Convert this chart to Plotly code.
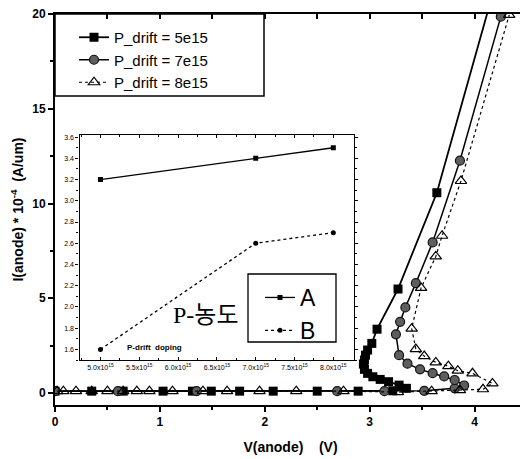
import plotly.graph_objects as go

# ---------------- data ----------------
# Main chart: V(anode) in volts, I(anode) in 1e-4 A/um
sq_v = [0.0, 0.35, 0.65, 1.03, 1.31, 1.49, 1.76, 2.08, 2.50, 2.89, 3.22, 3.35,
        3.28, 3.18, 3.10, 3.03, 2.98, 2.95, 2.94, 2.95, 2.96, 2.98, 3.02, 3.07,
        3.27, 3.64, 4.21]
sq_i = [0.10, 0.10, 0.10, 0.10, 0.10, 0.10, 0.10, 0.10, 0.10, 0.10, 0.12, 0.25,
        0.42, 0.60, 0.72, 0.86, 1.04, 1.25, 1.53, 1.74, 2.00, 2.27, 2.62, 3.37,
        5.49, 10.57, 21.8]

ci_v = [0.0, 0.60, 1.35, 2.69, 3.14, 3.52, 3.81, 3.90, 3.81, 3.71, 3.60, 3.48,
        3.36, 3.28, 3.25, 3.29, 3.34, 3.44, 3.60, 3.86, 4.25]
ci_i = [0.10, 0.10, 0.10, 0.10, 0.10, 0.12, 0.25, 0.40, 0.69, 0.88, 1.05, 1.25,
        1.55, 2.00, 3.10, 3.76, 4.52, 5.80, 7.95, 12.26, 19.86]

tr_v = [0.02, 0.08, 0.20, 0.35, 0.50, 0.65, 0.78, 0.90, 1.12, 1.41, 1.64, 1.95,
        2.30, 2.75, 3.27, 3.59, 3.86, 4.08, 4.17, 3.98, 3.84, 3.75, 3.63, 3.52,
        3.44, 3.40, 3.49, 3.63, 3.69, 3.87, 4.33]
tr_i = [0.10, 0.10, 0.10, 0.10, 0.10, 0.10, 0.10, 0.10, 0.10, 0.10, 0.10, 0.10,
        0.10, 0.10, 0.05, 0.10, 0.15, 0.20, 0.51, 1.04, 1.18, 1.42, 1.62, 1.95,
        2.32, 3.40, 5.55, 7.21, 8.30, 11.19, 19.95]

series_names = ["P_drift = 5e15", "P_drift = 7e15", "P_drift = 8e15"]

# Inset: P-drift doping (x 1e15) vs values
inset_doping = [5.0, 7.0, 8.0]
inset_a = [3.2, 3.4, 3.5]
inset_b = [1.6, 2.6, 2.7]
inset_names = ["A", "B"]
inset_xticks = [5.0, 5.5, 6.0, 6.5, 7.0, 7.5, 8.0]
inset_xticktext = ["5.0x10<sup>15</sup>", "5.5x10<sup>15</sup>", "6.0x10<sup>15</sup>",
                   "6.5x10<sup>15</sup>", "7.0x10<sup>15</sup>", "7.5x10<sup>15</sup>",
                   "8.0x10<sup>15</sup>"]
inset_yticks = [1.6, 1.8, 2.0, 2.2, 2.4, 2.6, 2.8, 3.0, 3.2, 3.4, 3.6]

FONT = "Arial, Liberation Sans, sans-serif"

fig = go.Figure()

fig.add_trace(go.Scatter(
    x=sq_v, y=sq_i, name=series_names[0], mode="lines+markers",
    line=dict(color="black", width=1.8),
    marker=dict(symbol="square", size=9, color="black"),
    legend="legend"))
fig.add_trace(go.Scatter(
    x=ci_v, y=ci_i, name=series_names[1], mode="lines+markers",
    line=dict(color="black", width=1.5),
    marker=dict(symbol="circle", size=9, color="#5e5e5e", line=dict(color="#111", width=1.2)),
    legend="legend"))
fig.add_trace(go.Scatter(
    x=tr_v, y=tr_i, name=series_names[2], mode="lines+markers",
    line=dict(color="black", width=1.2, dash="dot"),
    marker=dict(symbol="triangle-up-open", size=10, color="black", line=dict(width=1.2)),
    legend="legend"))

# invisible helper trace for the top/right tick axes
fig.add_trace(go.Scatter(x=[0], y=[0], xaxis="x3", yaxis="y3", mode="markers",
                         marker=dict(opacity=0), showlegend=False, hoverinfo="skip"))

# inset traces
fig.add_trace(go.Scatter(
    x=inset_doping, y=inset_a, name=inset_names[0], mode="lines+markers",
    xaxis="x2", yaxis="y2", line=dict(color="black", width=1.3),
    marker=dict(symbol="square", size=5, color="black"), legend="legend2"))
fig.add_trace(go.Scatter(
    x=inset_doping, y=inset_b, name=inset_names[1], mode="lines+markers",
    xaxis="x2", yaxis="y2", line=dict(color="black", width=1.3, dash="dot"),
    marker=dict(symbol="circle", size=5, color="black"), legend="legend2"))

# page has an 8px body margin: figure is shifted by (8, 8) in the window
OFF = 8
W, H = 520, 451
PL, PR, PT, PB = 55, 526, 14, 405           # plot area in window pixels
L, T = PL - OFF, PT - OFF
R, B = W - (PR - OFF), H - (PB - OFF)
pw, ph = PR - PL, PB - PT


def px_x(p):
    return (p - PL) / pw


def px_y(p):
    return (PB - p) / ph


fig.update_layout(
    width=W, height=H,
    margin=dict(l=L, r=R, t=T, b=B, autoexpand=False),
    paper_bgcolor="white", plot_bgcolor="white",
    font=dict(family=FONT, color="black"),
    xaxis=dict(range=[0, 4.49], tickvals=[0, 1, 2, 3, 4], ticks="outside", ticklen=5,
               tickwidth=2, tickcolor="black", minor=dict(dtick=0.5, tick0=0, ticks="outside",
                                                        ticklen=3, tickwidth=1.5, tickcolor="black"),
               showline=True, linewidth=2, linecolor="black", mirror=True,
               showgrid=False, zeroline=False, automargin=False, ticklabeloverflow="allow",
               tickfont=dict(size=12, weight="bold"),
               title=dict(text="V(anode)    (V)", font=dict(size=14, weight="bold"), standoff=14)),
    yaxis=dict(range=[-0.63, 20], tickvals=[0, 5, 10, 15, 20], ticks="outside", ticklen=5,
               tickwidth=2, tickcolor="black", minor=dict(dtick=2.5, tick0=0, ticks="outside",
                                                        ticklen=3, tickwidth=1.5, tickcolor="black"),
               showline=True, linewidth=2, linecolor="black", mirror=True,
               showgrid=False, zeroline=False, automargin=False, ticklabeloverflow="allow",
               tickfont=dict(size=12, weight="bold"),
               title=dict(text="I(anode) * 10<sup>-4</sup>  (A/um)",
                          font=dict(size=14, weight="bold"), standoff=7)),
    xaxis3=dict(overlaying="x", matches="x", side="top", anchor="y3",
                tickvals=[0, 0.5, 1, 1.5, 2, 2.5, 3, 3.5, 4], ticks="inside", ticklen=5,
                tickwidth=1.5, tickcolor="black", showticklabels=False, automargin=False,
                showgrid=False, zeroline=False, showline=False),
    yaxis3=dict(overlaying="y", matches="y", side="right", anchor="x3",
                tickvals=[0, 2.5, 5, 7.5, 10, 12.5, 15, 17.5, 20], ticks="inside", ticklen=5,
                tickwidth=1.5, tickcolor="black", showticklabels=False, automargin=False,
                showgrid=False, zeroline=False, showline=False),
    xaxis2=dict(domain=[px_x(79.5), px_x(353.5)], anchor="y2", range=[4.73, 8.26],
                tickvals=inset_xticks, ticktext=inset_xticktext, ticks="inside", ticklen=3,
                tickcolor="black", minor=dict(dtick=0.25, tick0=5.0, ticks="inside", ticklen=2,
                                              tickcolor="black"),
                showline=True, linewidth=1.2, linecolor="black", mirror="ticks",
                showgrid=False, zeroline=False, automargin=False, tickfont=dict(size=7)),
    yaxis2=dict(domain=[px_y(360), px_y(135)], anchor="x2", range=[1.5, 3.62],
                tickvals=inset_yticks, tickformat=".1f", ticks="outside", ticklen=3,
                tickcolor="black", minor=dict(dtick=0.1, tick0=1.5, ticks="outside", ticklen=2,
                                              tickcolor="black"),
                showline=True, linewidth=1.2, linecolor="black", mirror="ticks",
                showgrid=False, zeroline=False, automargin=False, tickfont=dict(size=7)),
    legend=dict(x=px_x(74), y=px_y(21), xanchor="left", yanchor="top",
                bgcolor="rgba(0,0,0,0)", borderwidth=0,
                font=dict(size=15, family=FONT), tracegroupgap=0),
    legend2=dict(x=px_x(260), y=px_y(276), xanchor="left", yanchor="top",
                 bgcolor="rgba(0,0,0,0)", borderwidth=0,
                 font=dict(size=23, family=FONT)),
    shapes=[
        dict(type="rect", xref="paper", yref="paper", x0=0, x1=px_x(264),
             y0=px_y(96), y1=1, line=dict(color="black", width=1.5), fillcolor="white",
             layer="below"),
        dict(type="rect", xref="paper", yref="paper", x0=px_x(248), x1=px_x(336),
             y0=px_y(342), y1=px_y(274), line=dict(color="black", width=1.3),
             fillcolor="rgba(0,0,0,0)", layer="above"),
    ],
    annotations=[
        dict(text="P-농도", xref="paper", yref="paper", x=px_x(206), y=px_y(315),
             xanchor="center", yanchor="middle", showarrow=False,
             font=dict(size=24, family="Liberation Serif, Noto Sans CJK KR, serif")),
        dict(text="P-drift  doping", xref="paper", yref="paper", x=px_x(154), y=px_y(347),
             xanchor="center", yanchor="middle", showarrow=False,
             font=dict(size=8, weight="bold")),
    ],
)

fig.write_html("out.html")
